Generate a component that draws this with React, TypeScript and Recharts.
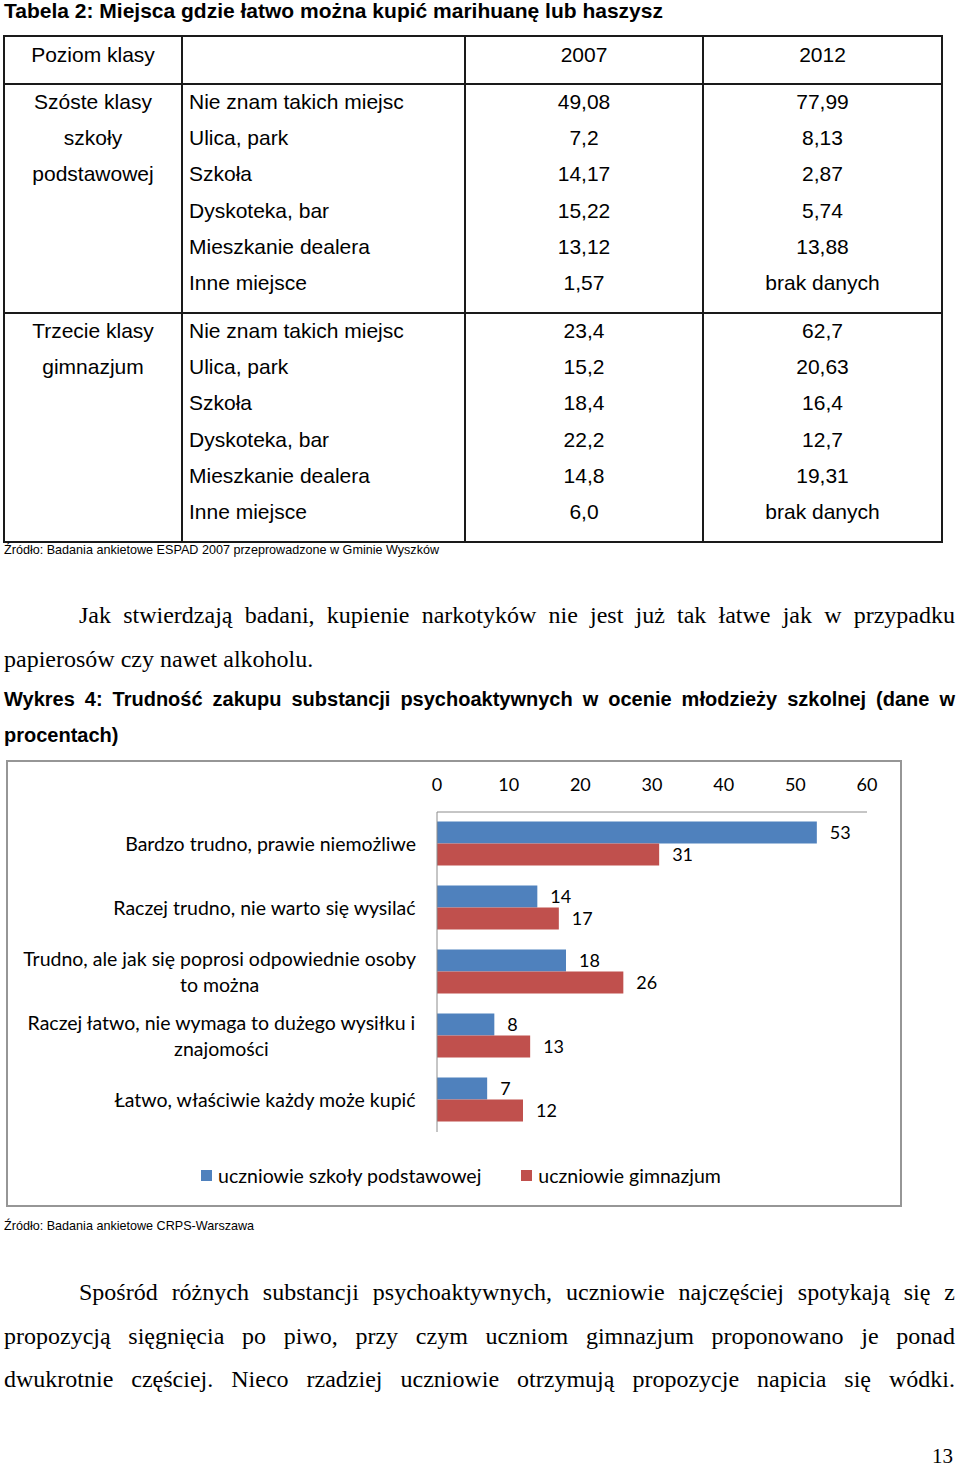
import React from 'react';
import { BarChart, Bar, XAxis, YAxis, LabelList } from 'recharts';

// Table data
const tableYears = ['2007', '2012'];
const tablePlaces = [
  'Nie znam takich miejsc',
  'Ulica, park',
  'Szkoła',
  'Dyskoteka, bar',
  'Mieszkanie dealera',
  'Inne miejsce',
];
const primary2007 = ['49,08', '7,2', '14,17', '15,22', '13,12', '1,57'];
const primary2012 = ['77,99', '8,13', '2,87', '5,74', '13,88', 'brak danych'];
const gym2007 = ['23,4', '15,2', '18,4', '22,2', '14,8', '6,0'];
const gym2012 = ['62,7', '20,63', '16,4', '12,7', '19,31', 'brak danych'];
const groupLabels = [
  ['Szóste klasy', 'szkoły', 'podstawowej'],
  ['Trzecie klasy', 'gimnazjum'],
];

// Chart data
const categories = [
  'Bardzo trudno, prawie niemożliwe',
  'Raczej trudno, nie warto się wysilać',
  'Trudno, ale jak się poprosi odpowiednie osoby\nto można',
  'Raczej łatwo, nie wymaga to dużego wysiłku i\nznajomości',
  'Łatwo, właściwie każdy może kupić',
];
const primaryValues = [53, 14, 18, 8, 7];
const gymValues = [31, 17, 26, 13, 12];
const xTicks = [0, 10, 20, 30, 40, 50, 60];
const seriesNames = ['uczniowie szkoły podstawowej', 'uczniowie gimnazjum'];
const seriesColors = ['#4F81BD', '#C0504D'];

const chartData = categories.map((name, i) => ({
  name,
  primary: primaryValues[i],
  gym: gymValues[i],
}));

const SANS = '"Liberation Sans", Arial, sans-serif';
const SERIF = '"Liberation Serif", "Times New Roman", serif';
const CHART_FONT = 'Lato, "Open Sans", sans-serif';
const LABEL_SIZE = 19.5;

let measureCtx: CanvasRenderingContext2D | null = null;
const measure = (text: string) => {
  if (!measureCtx) measureCtx = document.createElement('canvas').getContext('2d');
  if (!measureCtx) return text.length * 9.5;
  measureCtx.font = `${LABEL_SIZE}px Lato`;
  return measureCtx.measureText(text).width;
};

const CategoryTick = (props: any) => {
  const { y, payload } = props;
  const lines = String(payload.value).split('\n');
  const maxW = Math.max(...lines.map(measure));
  const cx = 408 - maxW / 2;
  const startY = y - ((lines.length - 1) * 26) / 2;
  return (
    <g>
      {lines.map((line, i) => (
        <text
          key={i}
          x={cx}
          y={startY + i * 26}
          dy="0.35em"
          textAnchor="middle"
          fill="#000"
          fontSize={LABEL_SIZE}
          fontFamily={CHART_FONT}
        >
          {line}
        </text>
      ))}
    </g>
  );
};

const ValueTick = (props: any) => {
  const { x, payload } = props;
  return (
    <text x={x} y={29} textAnchor="middle" fill="#000" fontSize={18} fontFamily={CHART_FONT}>
      {payload.value}
    </text>
  );
};

const abs = (left: number, top: number, extra: React.CSSProperties = {}): React.CSSProperties => ({
  position: 'absolute',
  left,
  top,
  ...extra,
});

// Table cell text, vertically centred on cy
const Cell = ({ x, cy, text, align = 'left', w = 0 }: { x: number; cy: number; text: string; align?: 'left' | 'center'; w?: number }) => (
  <div
    style={abs(x, cy - 12, {
      height: 24,
      lineHeight: '24px',
      fontFamily: SANS,
      fontSize: 21,
      color: '#000',
      whiteSpace: 'nowrap',
      width: align === 'center' ? w : undefined,
      textAlign: align,
    })}
  >
    {text}
  </div>
);

const colX = [4, 182, 465, 703, 942];
const rowLines = [36, 84, 313, 542];
const rowStep = 36.2;

export default function App() {
  const groups = [
    { start: 102, c2007: primary2007, c2012: primary2012, label: groupLabels[0] },
    { start: 331, c2007: gym2007, c2012: gym2012, label: groupLabels[1] },
  ];

  return (
    <div style={{ position: 'relative', width: 960, height: 1468, background: '#fff', overflow: 'hidden' }}>
      <style>{`body{margin:0}`}</style>

      {/* Table title */}
      <div style={abs(4, 0, { fontFamily: SANS, fontWeight: 700, fontSize: 21, lineHeight: '22px', whiteSpace: 'nowrap' })}>
        Tabela 2: Miejsca gdzie łatwo można kupić marihuanę lub haszysz
      </div>

      {/* Table grid */}
      {colX.map((x, i) => (
        <div key={'v' + i} style={abs(x - 1, rowLines[0] - 1, { width: 2, height: rowLines[3] - rowLines[0] + 2, background: '#1a1a1a' })} />
      ))}
      {rowLines.map((y, i) => (
        <div key={'h' + i} style={abs(colX[0] - 1, y - 1, { width: colX[4] - colX[0] + 2, height: 2, background: '#1a1a1a' })} />
      ))}

      {/* Header */}
      <Cell x={colX[0]} w={colX[1] - colX[0]} cy={55} text="Poziom klasy" align="center" />
      <Cell x={colX[2]} w={colX[3] - colX[2]} cy={55} text={tableYears[0]} align="center" />
      <Cell x={colX[3]} w={colX[4] - colX[3]} cy={55} text={tableYears[1]} align="center" />

      {groups.map((g, gi) => (
        <React.Fragment key={gi}>
          {g.label.map((l, i) => (
            <Cell key={'l' + i} x={colX[0]} w={colX[1] - colX[0]} cy={g.start + i * rowStep} text={l} align="center" />
          ))}
          {tablePlaces.map((p, i) => (
            <React.Fragment key={'r' + i}>
              <Cell x={189} cy={g.start + i * rowStep} text={p} />
              <Cell x={colX[2]} w={colX[3] - colX[2]} cy={g.start + i * rowStep} text={g.c2007[i]} align="center" />
              <Cell x={colX[3]} w={colX[4] - colX[3]} cy={g.start + i * rowStep} text={g.c2012[i]} align="center" />
            </React.Fragment>
          ))}
        </React.Fragment>
      ))}

      <div style={abs(4, 543, { fontFamily: SANS, fontSize: 12.6, lineHeight: '15px', whiteSpace: 'nowrap' })}>
        Źródło: Badania ankietowe ESPAD 2007 przeprowadzone w Gminie Wyszków
      </div>

      {/* Paragraph 1 */}
      <div style={abs(4, 593, { width: 951, fontFamily: SERIF, fontSize: 24, lineHeight: '44px' })}>
        <div style={{ textIndent: 75, textAlign: 'justify', textAlignLast: 'justify' }}>
          Jak stwierdzają badani, kupienie narkotyków nie jest już tak łatwe jak w przypadku
        </div>
        <div>papierosów czy nawet alkoholu.</div>
      </div>

      {/* Chart caption */}
      <div style={abs(4, 681, { width: 951, fontFamily: SANS, fontWeight: 700, fontSize: 20, lineHeight: '36px' })}>
        <div style={{ textAlign: 'justify', textAlignLast: 'justify' }}>
          Wykres 4: Trudność zakupu substancji psychoaktywnych w ocenie młodzieży szkolnej (dane w
        </div>
        <div>procentach)</div>
      </div>

      {/* Chart box */}
      <div style={abs(6, 760, { width: 892, height: 443, border: '2px solid #969696', background: '#fff' })}>
        <BarChart
          width={892}
          height={443}
          data={chartData}
          layout="vertical"
          margin={{ top: 20, right: 33, bottom: 73, left: 0 }}
          barCategoryGap="15%"
          barGap={0}
        >
          <XAxis
            type="number"
            orientation="top"
            domain={[0, 60]}
            ticks={xTicks}
            height={30}
            axisLine={{ stroke: '#8c8c8c' }}
            tickLine={false}
            tick={<ValueTick />}
          />
          <YAxis
            type="category"
            dataKey="name"
            width={429}
            interval={0}
            axisLine={{ stroke: '#8c8c8c' }}
            tickLine={false}
            tick={<CategoryTick />}
          />
          <Bar dataKey="primary" name={seriesNames[0]} fill={seriesColors[0]} isAnimationActive={false}>
            <LabelList dataKey="primary" position="right" offset={13} fill="#000" fontSize={18} fontFamily={CHART_FONT} />
          </Bar>
          <Bar dataKey="gym" name={seriesNames[1]} fill={seriesColors[1]} isAnimationActive={false}>
            <LabelList dataKey="gym" position="right" offset={13} fill="#000" fontSize={18} fontFamily={CHART_FONT} />
          </Bar>
        </BarChart>

        {/* Legend */}
        <div
          style={abs(14, 400, {
            right: 0,
            height: 26,
            display: 'flex',
            justifyContent: 'center',
            alignItems: 'center',
            gap: 40,
            fontFamily: CHART_FONT,
            fontSize: LABEL_SIZE,
            whiteSpace: 'nowrap',
          })}
        >
          {seriesNames.map((n, i) => (
            <div key={n} style={{ display: 'flex', alignItems: 'center' }}>
              <span style={{ display: 'inline-block', width: 11, height: 11, background: seriesColors[i], marginRight: 6 }} />
              <span>{n}</span>
            </div>
          ))}
        </div>
      </div>

      <div style={abs(4, 1219, { fontFamily: SANS, fontSize: 12.6, lineHeight: '15px', whiteSpace: 'nowrap' })}>
        Źródło: Badania ankietowe CRPS-Warszawa
      </div>

      {/* Paragraph 2 */}
      <div style={abs(4, 1271, { width: 951, fontFamily: SERIF, fontSize: 24, lineHeight: '43.5px' })}>
        <div style={{ textIndent: 75, textAlign: 'justify', textAlignLast: 'justify' }}>
          Spośród różnych substancji psychoaktywnych, uczniowie najczęściej spotykają się z
        </div>
        <div style={{ textAlign: 'justify', textAlignLast: 'justify' }}>
          propozycją sięgnięcia po piwo, przy czym uczniom gimnazjum proponowano je ponad
        </div>
        <div style={{ textAlign: 'justify', textAlignLast: 'justify' }}>
          dwukrotnie częściej. Nieco rzadziej uczniowie otrzymują propozycje napicia się wódki.
        </div>
      </div>

      <div style={abs(932, 1445, { fontFamily: SERIF, fontSize: 21, lineHeight: '22px' })}>13</div>
    </div>
  );
}
